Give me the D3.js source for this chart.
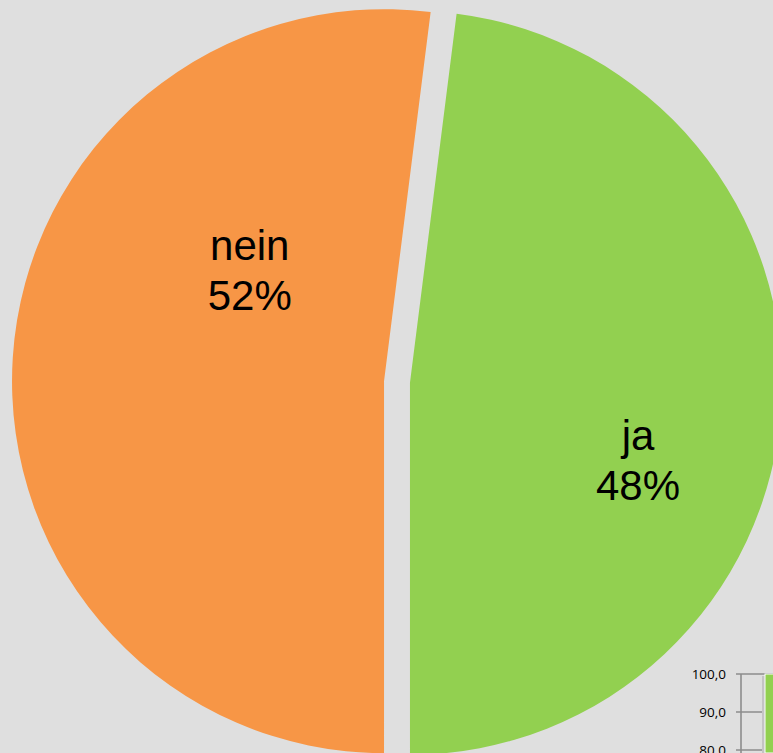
<!DOCTYPE html>
<html>
<head>
<meta charset="utf-8">
<script src="https://cdn.jsdelivr.net/npm/d3@7"></script>
<style>
  html, body { margin: 0; padding: 0; background: #dfdfdf; }
  svg { display: block; }
</style>
</head>
<body>
<svg id="chart" width="773" height="753"></svg>
<script>
// Answers (share of responses, %)
const categories = ["ja", "nein"];
const shares = [48, 52];
const sliceColors = ["#92d050", "#f79646"];

// Partial column chart in the lower-right corner
const miniTicks = [100, 90, 80];
const miniTickLabels = ["100,0", "90,0", "80,0"];
const miniBarValues = [100];

const svg = d3.select("#chart");
const W = 773, H = 753;

svg.append("rect").attr("width", W).attr("height", H).attr("fill", "#dfdfdf");

// ---- Pie ----
const cx = 397, cy = 382, radius = 372, explode = 13;
const total = d3.sum(shares);
// the boundary between the two slices points straight down
const start = Math.PI - 2 * Math.PI * shares[0] / total;

const pie = d3.pie().sort(null).value(d => d.value)
  .startAngle(start).endAngle(start + 2 * Math.PI);
const arcs = pie(categories.map((c, i) => ({ name: c, value: shares[i], color: sliceColors[i] })));
const arc = d3.arc().innerRadius(0).outerRadius(radius);

const pieG = svg.append("g").attr("transform", `translate(${cx},${cy})`);
pieG.selectAll("path.slice")
  .data(arcs)
  .join("path")
  .attr("class", "slice")
  .attr("transform", d => {
    const a = (d.startAngle + d.endAngle) / 2;
    return `translate(${explode * Math.sin(a)},${-explode * Math.cos(a)})`;
  })
  .attr("d", arc)
  .attr("fill", d => d.data.color);

// Data labels placed inside each slice (polar position relative to the pie centre)
const labelPolar = { ja: { angle: 110.9, dist: 258 }, nein: { angle: 303.7, dist: 177 } };
const fmt = d => Math.round(d.value / total * 100) + "%";
const labels = pieG.selectAll("text.lbl")
  .data(arcs)
  .join("text")
  .attr("class", "lbl")
  .attr("text-anchor", "middle")
  .attr("font-family", "Liberation Sans, Arial, sans-serif")
  .attr("font-size", 42)
  .attr("fill", "#000")
  .attr("transform", d => {
    const p = labelPolar[d.data.name];
    const a = p.angle * Math.PI / 180;
    return `translate(${p.dist * Math.sin(a)},${-p.dist * Math.cos(a)})`;
  });
labels.append("tspan").attr("x", 0).attr("y", -24).text(d => d.data.name);
labels.append("tspan").attr("x", 0).attr("y", 26).text(d => fmt(d));

// ---- Corner column chart ----
const y = d3.scaleLinear().domain([80, 100]).range([750, 674]);
const miniG = svg.append("g");
const axisX = 741;

// gridlines and tick marks
miniG.selectAll("line.grid")
  .data(miniTicks)
  .join("line")
  .attr("x1", axisX - 5).attr("x2", W)
  .attr("y1", d => y(d)).attr("y2", d => y(d))
  .attr("stroke", "#8c8c8c").attr("stroke-width", 1.6);

miniG.append("line")
  .attr("x1", axisX).attr("x2", axisX)
  .attr("y1", y(100)).attr("y2", H)
  .attr("stroke", "#8c8c8c").attr("stroke-width", 1.6);

miniG.selectAll("text.tick")
  .data(miniTicks)
  .join("text")
  .attr("x", 726)
  .attr("y", d => y(d))
  .attr("dy", "0.35em")
  .attr("text-anchor", "end")
  .attr("font-family", "Open Sans, Liberation Sans, sans-serif")
  .attr("font-size", 13.5)
  .attr("fill", "#000")
  .text((d, i) => miniTickLabels[i]);

// column with soft shadow
const barX = 765;
miniG.selectAll("rect.shadow")
  .data(miniBarValues)
  .join("rect")
  .attr("x", barX - 3).attr("y", d => y(d) + 2)
  .attr("width", 20).attr("height", d => H - y(d))
  .attr("fill", "#c4c4c4");
miniG.selectAll("rect.bar")
  .data(miniBarValues)
  .join("rect")
  .attr("x", barX).attr("y", d => y(d))
  .attr("width", 20).attr("height", d => H - y(d))
  .attr("fill", "#92d050")
  .attr("stroke", "#ffffff").attr("stroke-width", 1);
</script>
</body>
</html>
